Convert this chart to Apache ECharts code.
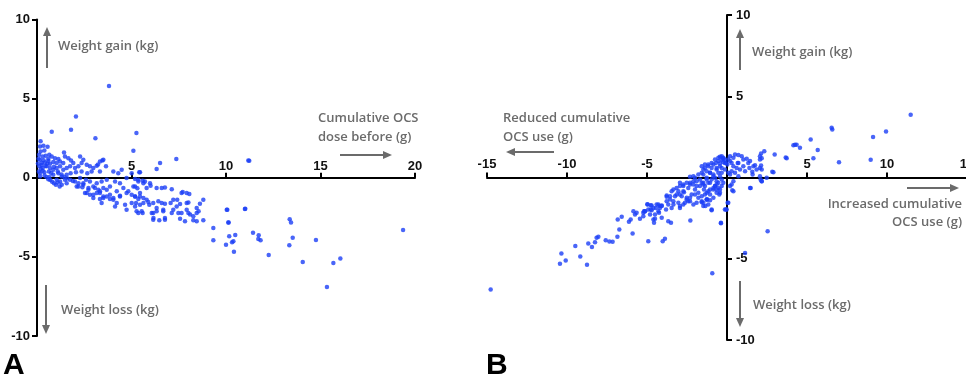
<!DOCTYPE html>
<html>
<head>
<meta charset="utf-8">
<script src="https://cdn.jsdelivr.net/npm/echarts@6/dist/echarts.min.js"></script>
<style>
html, body { margin: 0; padding: 0; background: #fff; }
#chart { width: 966px; height: 382px; }
</style>
</head>
<body>
<div id="chart"></div>
<script>
// axis ranges / ticks
var xRangeA = [0, 20];
var xRangeB = [-15, 15];
var yRange = [-10, 10];
var tickStep = 5;

// A: cumulative OCS dose before (g) vs weight change (kg)
var pointsA = [
    [3.81, 5.80], [2.06, 3.87], [1.80, 3.03], [0.78, 2.90], [3.09, 2.50], [5.26, 2.82], [0.19, 2.31],
    [5.10, 1.70], [7.37, 1.18], [6.51, 0.93], [6.33, 0.55], [5.41, 0.34], [11.18, 1.09], [1.43, 1.60],
    [3.46, 1.09], [3.23, 0.84],
    [0.16, 1.98], [0.34, 2.02], [0.56, 1.96], [0.19, 1.66], [0.39, 1.72], [0.11, 1.45], [0.30, 1.35],
    [0.46, 1.39], [0.65, 1.45], [0.78, 1.35], [0.95, 1.24], [1.13, 1.18], [0.16, 1.14], [0.25, 0.93],
    [0.42, 0.97], [0.60, 1.07], [0.69, 0.88], [0.86, 0.99], [1.04, 0.93], [1.22, 1.03], [1.39, 0.93],
    [1.48, 1.35], [1.66, 1.24], [1.80, 1.09], [1.92, 0.93], [0.12, 0.72], [0.30, 0.61], [0.51, 0.72],
    [0.69, 0.61], [0.86, 0.50], [1.04, 0.61], [1.22, 0.72], [1.39, 0.50], [1.57, 0.61], [1.75, 0.72],
    [2.01, 0.61], [2.19, 0.72], [2.28, 1.35], [2.45, 1.14], [2.36, 0.93], [2.63, 0.82], [2.80, 0.72],
    [2.98, 0.61], [3.16, 0.76], [3.33, 1.03], [3.51, 1.14], [3.65, 0.72], [0.16, 0.29], [0.39, 0.34],
    [0.63, 0.40], [0.86, 0.19], [1.13, 0.29], [1.31, 0.08], [1.57, 0.19], [1.78, 0.29], [2.06, 0.34],
    [2.36, 0.40], [2.66, 0.29], [2.89, 0.40], [3.33, 0.40], [0.16, 0.08], [4.04, 0.40], [4.30, 0.29],
    [4.48, 0.50], [1.04, -0.13], [1.22, -0.23], [1.48, -0.13], [1.75, -0.13], [2.01, -0.23], [2.28, -0.02],
    [2.59, -0.13], [1.31, -0.44], [1.57, -0.34], [2.80, -0.23], [3.16, -0.34], [3.42, -0.23], [3.69, -0.13],
    [4.13, -0.23], [4.39, -0.34], [4.74, -0.02], [5.01, 0.29], [5.45, 0.34], [2.10, -0.55], [2.45, -0.44],
    [2.72, -0.65], [2.98, -0.55], [3.25, -0.76], [3.51, -0.65], [3.86, -0.55], [4.22, -0.86], [4.57, -0.65],
    [4.83, -0.86], [5.10, -0.55], [5.36, -0.23], [5.63, -0.34], [2.63, -0.97], [2.98, -1.07], [3.33, -0.97],
    [3.69, -1.18], [4.04, -1.28], [4.39, -1.14], [4.74, -0.97], [5.19, -1.18], [5.45, -0.97], [5.80, -0.65],
    [3.33, -1.35], [3.86, -1.35], [3.51, -1.18],
    [5.19, -0.08], [5.36, -0.13], [5.59, -0.19], [5.71, -0.23], [5.19, -0.55], [5.31, -0.67], [5.98, -0.34],
    [6.01, -0.50], [6.33, -0.65], [6.60, -0.65], [6.77, -0.61], [7.13, -0.72], [7.71, -0.90], [7.92, -0.97],
    [8.06, -1.03], [5.19, -1.18], [5.36, -1.35], [5.63, -1.28], [5.80, -1.39], [5.24, -1.60], [5.01, -1.60],
    [5.45, -1.70], [5.89, -1.53], [6.15, -1.60], [6.42, -1.49], [6.60, -1.60], [6.77, -1.64], [7.07, -1.60],
    [7.42, -1.39], [7.57, -1.66], [8.01, -1.56], [8.62, -1.64], [8.80, -1.39], [8.45, -1.91], [5.27, -2.12],
    [5.59, -2.23], [6.15, -2.23], [6.33, -2.12], [6.68, -2.02], [7.21, -2.02], [7.48, -2.23], [7.92, -2.02],
    [8.10, -2.33], [8.45, -2.23], [10.04, -2.02], [11.00, -1.98], [6.15, -2.65], [6.47, -2.69], [6.77, -2.54],
    [7.57, -2.59], [8.27, -2.69], [8.80, -2.69], [10.12, -2.82], [9.33, -3.18],
    [2.19, -0.55], [2.45, -0.34], [2.72, -0.76], [2.80, -1.07], [3.07, -0.65], [3.16, -0.97], [3.33, -0.86],
    [3.51, -1.28], [3.69, -0.76], [3.86, -1.07], [4.04, -1.39], [4.22, -1.60], [4.13, -1.81], [4.39, -1.18],
    [4.66, -1.70], [4.74, -2.02], [5.19, -1.81], [5.36, -2.23], [5.54, -2.12], [5.63, -1.60], [5.94, -1.70],
    [6.07, -2.23], [6.16, -2.54], [6.33, -1.91], [6.68, -2.12], [6.77, -2.65], [3.42, -1.60], [2.54, -0.97],
    [2.98, -1.28], [5.01, -1.07], [5.45, -1.18], [7.21, -1.39], [7.39, -1.81], [7.65, -0.97], [7.92, -1.60],
    [8.01, -2.23], [8.27, -2.44], [8.45, -2.75], [8.55, -2.12], [7.65, -2.23], [7.83, -2.75], [7.13, -2.23],
    [9.33, -3.95], [10.39, -4.02], [10.14, -2.82], [10.07, -2.02], [11.02, -1.96], [10.17, -3.70],
    [10.49, -3.62], [10.32, -4.08], [10.00, -4.23], [10.42, -4.67], [11.43, -3.47], [11.73, -3.64],
    [11.71, -3.87], [11.83, -3.95], [12.26, -4.88], [13.37, -2.63], [13.44, -2.82], [13.53, -3.79],
    [13.35, -4.27], [14.06, -5.32], [14.76, -3.93], [15.68, -5.38], [16.05, -5.11], [15.34, -6.90],
    [19.37, -3.30], [11.23, 1.07],
    [0.60, -0.10], [0.80, -0.25], [0.90, -0.35], [1.00, -0.45], [1.10, -0.30], [0.70, -0.15], [1.20, -0.55],
    [0.50, 0.05], [0.40, 0.15], [0.30, 0.45], [0.20, 0.55], [0.45, 0.75], [0.55, 0.90], [0.35, 1.10],
    [0.25, 0.80], [0.10, 0.40], [0.05, 0.90], [0.08, 1.20], [0.60, 1.20], [0.90, 0.70], [1.10, 0.40],
    [0.75, 0.30], [0.65, 0.05], [1.30, 0.20], [1.45, 0.05], [1.60, -0.05], [1.90, -0.20], [2.20, -0.35],
    [2.40, -0.60]
];

// B: change in cumulative OCS use (g) vs weight change (kg)
var pointsB = [
    [11.48, 3.86], [9.94, 2.83], [9.13, 2.50], [6.54, 3.06], [6.58, 2.95], [5.23, 2.34], [5.67, 1.70],
    [5.40, 1.19], [4.56, 1.83], [4.25, 2.01], [4.15, 1.99], [4.35, 2.01], [7.00, 0.94], [8.98, 1.09],
    [3.67, 1.23], [3.73, 1.19], [2.98, 1.42], [2.33, 1.62], [2.13, 1.48], [2.06, 1.31], [2.17, 1.19],
    [2.06, 1.11], [2.13, 0.74], [2.17, 0.49], [2.06, 0.59], [2.10, -0.12], [2.17, -0.23], [2.90, 0.33],
    [2.83, 0.35], [1.58, 0.35], [0.71, 1.39], [0.67, 0.90], [0.92, 1.31], [1.02, 1.11], [1.23, 1.15],
    [1.33, 0.90], [1.44, 1.01], [1.65, 0.70], [1.02, 0.70], [0.81, 0.49], [1.13, 0.39], [1.40, 0.59],
    [1.85, 0.49], [1.75, 0.76], [1.44, -0.64], [0.40, -0.23], [0.29, -0.43], [0.33, -0.78], [-0.44, -0.94],
    [-0.85, -0.64],
    [-0.44, 1.27], [-0.23, 1.21], [-0.33, 1.07], [-0.13, 1.11], [-0.54, 1.01], [-0.69, 0.90], [-0.85, 0.80],
    [-0.44, 0.86], [-0.23, 0.94], [-0.06, 0.90], [0.02, 0.80], [0.19, 1.01], [0.50, 1.42], [0.71, 0.90],
    [0.60, 0.59], [0.29, 0.39], [0.08, 0.29], [-0.13, 0.49], [-0.33, 0.59], [-0.65, 0.59], [-0.96, 0.59],
    [-1.17, 0.70], [-1.38, 0.80], [-1.48, 0.49], [-1.27, 0.39], [-1.06, 0.29], [-0.85, 0.18], [-0.54, 0.29],
    [-0.44, 0.08], [-0.75, -0.02], [-0.96, -0.12], [-1.27, -0.02], [-1.58, 0.29], [-1.79, 0.18], [-2.00, -0.02],
    [-2.10, 0.08], [-2.31, 0.04], [-1.90, -0.23], [-1.69, -0.12], [-1.48, -0.33], [-1.17, -0.33], [-1.38, -0.53],
    [-1.69, -0.53], [-2.10, -0.43], [-2.31, -0.33], [-2.52, -0.33], [-2.73, -0.43], [-2.94, -0.53], [-2.42, -0.64],
    [-2.00, -0.74], [-2.73, -0.84], [-3.04, -0.84], [-3.35, -0.74], [-3.15, -1.05], [-2.83, -1.15], [-2.52, -1.25],
    [-2.21, -1.05], [-1.79, -0.94], [-1.58, -1.15], [-1.27, -0.94], [-1.06, -0.74], [-0.65, -0.74], [-0.33, -0.53],
    [-0.54, -0.33], [-0.75, -0.53], [-3.56, -1.15], [-3.77, -1.46], [-3.35, -1.46], [-3.04, -1.56], [-2.73, -1.66],
    [-2.42, -1.46], [-2.10, -1.66], [-1.58, -1.46], [-1.27, -1.35], [-0.96, -1.97], [-3.46, -1.87], [-2.94, -1.87],
    [-4.08, -1.76], [-4.29, -2.07], [-4.60, -1.87], [-4.92, -1.97], [-5.13, -2.07], [-4.81, -2.28], [-4.50, -2.28],
    [-5.23, -2.38], [0.08, -1.56], [-0.13, -1.97], [-0.33, -0.12],
    [-14.77, -6.89], [-10.44, -5.31], [-10.35, -4.68], [-10.08, -5.11], [-9.48, -4.22], [-9.17, -4.86],
    [-8.75, -5.37], [-8.67, -4.06], [-8.44, -4.27], [-8.25, -3.98], [-8.15, -3.71], [-8.04, -3.65],
    [-7.58, -3.86], [-7.35, -3.94], [-7.15, -3.96], [-6.85, -3.65], [-6.73, -3.20], [-5.90, -3.45],
    [-6.83, -2.58], [-6.58, -2.42], [-6.13, -2.73], [-6.02, -2.58], [-5.85, -2.07], [-5.75, -2.28],
    [-5.65, -2.17], [-5.44, -2.54], [-5.23, -2.17], [-5.13, -2.07], [-4.92, -3.92], [-4.96, -1.66],
    [-4.71, -1.72], [-4.77, -1.97], [-4.60, -2.58], [-4.56, -2.79], [-4.44, -1.87], [-4.29, -1.66],
    [-4.19, -1.76], [-4.25, -2.17], [-4.08, -2.48], [-4.02, -3.92], [-3.88, -3.77], [-3.67, -2.69],
    [-3.50, -2.79], [-2.29, -2.65], [-0.92, -5.89], [-0.38, -2.81], [-0.96, -2.01], [-0.02, -1.97],
    [-3.77, -1.11], [-3.56, -1.35], [-3.25, -1.15], [-2.94, -1.05], [-2.69, -0.90], [-2.52, -1.35],
    [-2.31, -1.25], [-2.00, -1.05], [-1.79, -1.25], [-1.58, -1.52], [-1.27, -1.35], [-1.06, -1.05],
    [-0.85, -1.25], [-0.65, -0.94], [-0.44, -0.74], [-3.35, -1.66], [-2.94, -1.76], [-2.63, -1.56],
    [-2.31, -1.46], [-1.90, -1.56], [-1.48, -1.76], [-1.17, -1.66], [-3.46, -0.84], [-3.15, -0.64],
    [-2.73, -0.53], [-2.31, -0.43], [-1.90, -0.53], [-1.48, -0.43], [-1.06, -0.33], [-0.65, -0.43],
    [-2.94, -0.33], [-2.10, -0.23],
    [-5.19, -2.07], [-4.98, -1.64], [-4.77, -1.70], [-4.71, -2.01], [-4.50, -2.54], [-4.40, -1.66],
    [-4.19, -1.87], [-4.08, -1.72], [-3.77, -1.19], [-3.67, -1.66], [-3.81, -1.97],
    [-1.44, -0.74], [-1.17, -0.84], [-0.85, -0.74], [-0.54, -0.64], [-1.38, -1.05], [-1.23, -1.35],
    [-1.06, -1.40], [-1.48, -1.56], [-1.35, -1.76], [-0.48, -1.05], [-0.75, -0.53], [0.19, -0.53],
    [0.40, -0.84], [1.48, -0.64], [2.17, -0.23], [-0.38, -2.79], [-0.06, -1.97], [0.04, -1.56],
    [2.54, -3.30], [1.13, -4.64],
    [0.40, 0.70], [0.50, 0.29], [0.19, 0.18], [0.71, 0.08], [0.29, 0.90], [0.08, 1.11], [0.19, 1.31],
    [0.40, 1.21], [2.06, 0.08], [2.48, -0.02], [1.60, 0.18],
    [-1.58, 0.70], [-1.38, 0.59], [-1.17, 0.80], [-0.96, 0.90], [-0.75, 1.11], [-0.54, 1.21], [-0.33, 1.31],
    [-0.23, 1.15], [-0.13, 0.90], [-0.44, 0.70], [-0.65, 0.49], [-1.06, 0.29], [-1.48, 0.18], [-0.85, 0.08],
    [-0.33, 0.29], [-1.27, -0.12], [-0.65, -0.23], [-0.23, -0.33], [-1.58, -0.33]
];

var dotColor = "#1c3ff6";
var grey = "#6b6b6b";
var tickFont = "Liberation Sans";
var noteFont = "Open Sans";

// grid boxes (px); labels may run past the box, like in the figure
var gridA = { left: 37, top: 19.5, width: 378, height: 316.5, outerBoundsMode: "none", containLabel: false };
var gridB = { left: 487, top: 15, width: 480, height: 325, outerBoundsMode: "none", containLabel: false };

function hideZero(v) {
    return v === 0 ? "" : String(v);
}

function merge(dst, src) {
    for (var k in src) {
        if (src[k] && typeof src[k] === "object" && !Array.isArray(src[k]) && dst[k]) {
            merge(dst[k], src[k]);
        } else {
            dst[k] = src[k];
        }
    }
    return dst;
}

function valueAxis(grid, range, extra) {
    var ax = {
        gridIndex: grid,
        type: "value",
        min: range[0],
        max: range[1],
        interval: tickStep,
        splitLine: { show: false },
        axisLine: { show: true, onZero: false, lineStyle: { color: "#000", width: 2 } },
        axisTick: { show: true, length: 5, lineStyle: { color: "#000", width: 2 } },
        axisLabel: {
            show: true,
            color: "#111",
            fontFamily: tickFont,
            fontWeight: "bold",
            fontSize: 13,
            showMinLabel: true,
            showMaxLabel: true,
            hideOverlap: false
        }
    };
    return merge(ax, extra);
}

// little grey arrow: line plus triangle head at (x2, y2)
function arrow(x1, y1, x2, y2) {
    var dx = x2 - x1, dy = y2 - y1;
    var len = Math.sqrt(dx * dx + dy * dy);
    var ux = dx / len, uy = dy / len;
    var hl = 9, hw = 4;
    var bx = x2 - ux * hl, by = y2 - uy * hl;
    return {
        type: "group",
        silent: true,
        children: [{
            type: "line",
            shape: { x1: x1, y1: y1, x2: bx, y2: by },
            style: { stroke: grey, lineWidth: 2 }
        }, {
            type: "polygon",
            shape: { points: [[x2, y2], [bx - uy * hw, by + ux * hw], [bx + uy * hw, by - ux * hw]] },
            style: { fill: grey }
        }]
    };
}

function note(txt, x, y, align) {
    return {
        type: "text",
        silent: true,
        x: x,
        y: y,
        style: {
            text: txt,
            fill: grey,
            font: "600 13px '" + noteFont + "'",
            textAlign: align || "left",
            textVerticalAlign: "middle"
        }
    };
}

function letter(txt, x) {
    return {
        type: "text",
        x: x,
        y: 381,
        style: {
            text: txt,
            fill: "#000",
            font: "bold 30px '" + tickFont + "'",
            textVerticalAlign: "bottom"
        }
    };
}

var chart = echarts.init(document.getElementById("chart"));

// axes crossing at zero: shift the axis from the grid edge to the middle
var option = {
    backgroundColor: "#fff",
    animation: false,
    grid: [gridA, gridB],
    xAxis: [
        valueAxis(0, xRangeA, {
            position: "bottom",
            offset: -gridA.height / 2,
            axisTick: { inside: true },
            axisLabel: { inside: true, margin: 5, formatter: hideZero }
        }),
        valueAxis(1, xRangeB, {
            position: "bottom",
            offset: -gridB.height / 2,
            axisTick: { inside: true },
            axisLabel: { inside: true, margin: 7, formatter: hideZero }
        })
    ],
    yAxis: [
        valueAxis(0, yRange, {
            position: "left",
            axisTick: { inside: false },
            axisLabel: { margin: 7 }
        }),
        valueAxis(1, yRange, {
            position: "left",
            offset: -gridB.width / 2,
            axisTick: { inside: true },
            axisLabel: { inside: true, margin: 9, formatter: hideZero }
        })
    ],
    series: [{
        type: "scatter",
        xAxisIndex: 0,
        yAxisIndex: 0,
        data: pointsA,
        symbolSize: 4.5,
        itemStyle: { color: dotColor },
        silent: true
    }, {
        type: "scatter",
        xAxisIndex: 1,
        yAxisIndex: 1,
        data: pointsB,
        symbolSize: 4.5,
        itemStyle: { color: dotColor },
        silent: true
    }],
    graphic: [
        // panel A notes
        arrow(47, 68, 47, 27),
        note("Weight gain (kg)", 58, 46),
        note("Cumulative OCS", 318, 118),
        note("dose before (g)", 318, 137),
        arrow(340, 155, 392, 155),
        arrow(46, 285, 46, 334),
        note("Weight loss (kg)", 61, 310),
        letter("A", 3),
        // panel B notes
        arrow(740, 70, 740, 29),
        note("Weight gain (kg)", 752, 52),
        note("Reduced cumulative", 503, 118),
        note("OCS use (g)", 503, 137),
        arrow(554, 152, 506, 152),
        arrow(907, 188, 959, 188),
        note("Increased cumulative", 962, 204, "right"),
        note("OCS use (g)", 962, 222, "right"),
        arrow(740, 281, 740, 327),
        note("Weight loss (kg)", 753, 305),
        letter("B", 486)
    ]
};

chart.setOption(option);
</script>
</body>
</html>
